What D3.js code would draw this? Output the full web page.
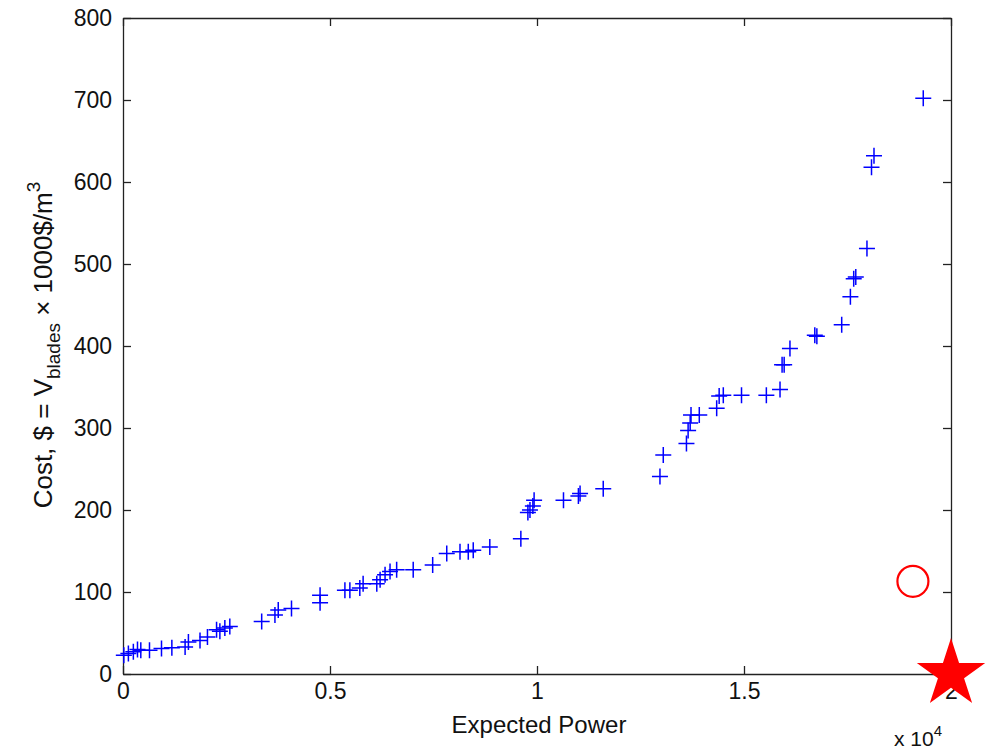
<!DOCTYPE html>
<html>
<head>
<meta charset="utf-8">
<script src="https://cdn.jsdelivr.net/npm/d3@7"></script>
<style>
  html, body { margin: 0; padding: 0; background: #fff; }
  svg { display: block; font-family: "Liberation Sans", Arial, sans-serif; }
</style>
</head>
<body>
<svg id="chart" width="986" height="749"></svg>
<script>
// Expected power (x 10^4) for each design
const powerValues = [
  0.002, 0.013, 0.025, 0.035, 0.043, 0.064, 0.093, 0.118, 0.150, 0.158,
  0.186, 0.204, 0.226, 0.234, 0.246, 0.258, 0.335, 0.367, 0.375, 0.407,
  0.476, 0.476, 0.536, 0.548, 0.572, 0.580, 0.613, 0.621, 0.633, 0.645,
  0.661, 0.701, 0.748, 0.782, 0.814, 0.834, 0.846, 0.886, 0.961, 0.978,
  0.983, 0.990, 0.993, 1.064, 1.100, 1.104, 1.160, 1.297, 1.305, 1.361,
  1.365, 1.370, 1.372, 1.392, 1.434, 1.440, 1.450, 1.494, 1.554, 1.587,
  1.592, 1.597, 1.611, 1.671, 1.676, 1.736, 1.757, 1.765, 1.770, 1.797,
  1.808, 1.814, 1.933
];
// Blade cost for each design
const costValues = [
  23, 25, 27, 30, 29, 29, 31, 32, 33, 39,
  41, 45, 54, 52, 56, 58, 64, 72, 78, 80,
  96, 87, 102, 102, 105, 110, 110, 115, 121, 125,
  127, 127, 133, 147, 149, 149, 151, 155, 165, 197,
  200, 205, 212, 212, 217, 220, 226, 241, 267, 281,
  297, 306, 316, 316, 324, 339, 340, 340, 340, 347,
  377, 377, 397, 413, 412, 426, 460, 482, 484, 519,
  618, 632, 702
];
// Highlighted designs
const circlePoint = [1.908, 113];
const starPoint = [2.0, 0];

const xTicks = [0, 0.5, 1, 1.5, 2];
const xTickLabels = ["0", "0.5", "1", "1.5", "2"];
const yTicks = [0, 100, 200, 300, 400, 500, 600, 700, 800];

const svg = d3.select("#chart");
const plotLeft = 123, plotRight = 951, plotTop = 18, plotBottom = 674;

const x = d3.scaleLinear().domain([0, 2]).range([plotLeft, plotRight]);
const y = d3.scaleLinear().domain([0, 800]).range([plotBottom, plotTop]);

const axisColor = "#222";
const tickLen = 8;

// Bottom axis (ticks pointing in)
const gx = svg.append("g").attr("transform", `translate(0,${plotBottom})`)
  .call(d3.axisBottom(x).tickValues(xTicks).tickSizeInner(-tickLen).tickSizeOuter(0)
        .tickPadding(9).tickFormat((d, i) => xTickLabels[i]));
// Top axis (mirrored ticks)
const gxt = svg.append("g").attr("transform", `translate(0,${plotTop})`)
  .call(d3.axisTop(x).tickValues(xTicks).tickSizeInner(-tickLen).tickSizeOuter(0).tickFormat(""));
// Left axis
const gy = svg.append("g").attr("transform", `translate(${plotLeft},0)`)
  .call(d3.axisLeft(y).tickValues(yTicks).tickSizeInner(-tickLen).tickSizeOuter(0)
        .tickPadding(11).tickFormat(d3.format("d")));
// Right axis
const gyr = svg.append("g").attr("transform", `translate(${plotRight},0)`)
  .call(d3.axisRight(y).tickValues(yTicks).tickSizeInner(-tickLen).tickSizeOuter(0).tickFormat(""));

[gx, gxt, gy, gyr].forEach(g => {
  g.select(".domain").attr("stroke", axisColor).attr("stroke-width", 1.3);
  g.selectAll(".tick line").attr("stroke", axisColor).attr("stroke-width", 1.3);
  g.selectAll(".tick text").attr("fill", "#111").attr("font-size", 23)
    .attr("font-family", "'Liberation Sans', Arial, sans-serif");
});

// Plus markers
const half = 8;
const marks = svg.append("g").attr("stroke", "#0000ff").attr("stroke-width", 1.5).attr("fill", "none");
powerValues.forEach((p, i) => {
  const cx = x(p), cy = y(costValues[i]);
  marks.append("path").attr("d", `M${cx - half},${cy}H${cx + half}M${cx},${cy - half}V${cy + half}`);
});

// Highlighted circle
svg.append("circle")
  .attr("cx", x(circlePoint[0])).attr("cy", y(circlePoint[1])).attr("r", 15.5)
  .attr("fill", "none").attr("stroke", "#ff0000").attr("stroke-width", 2.2);

// Highlighted star
const star = d3.symbol().type(d3.symbolStar).size(1450);
svg.append("path")
  .attr("d", star())
  .attr("transform", `translate(${x(starPoint[0])},${y(starPoint[1])})`)
  .attr("fill", "#ff0000");

// Axis titles
svg.append("text")
  .attr("x", 539).attr("y", 733)
  .attr("text-anchor", "middle").attr("font-size", 24).attr("fill", "#111")
  .text("Expected Power");

svg.append("text")
  .attr("x", 894).attr("y", 746).attr("font-size", 21).attr("fill", "#111")
  .html('x 10<tspan dy="-10" font-size="15">4</tspan>');

const yTitle = svg.append("text")
  .attr("transform", "translate(52,345) rotate(-90)")
  .attr("text-anchor", "middle").attr("font-size", 26).attr("fill", "#111");
yTitle.append("tspan").text("Cost, $ = V");
yTitle.append("tspan").attr("dy", 8).attr("font-size", 19).text("blades");
yTitle.append("tspan").attr("dy", -8).text(" \u00d7 1000$/m");
yTitle.append("tspan").attr("dy", -12).attr("font-size", 19).text("3");
</script>
</body>
</html>
